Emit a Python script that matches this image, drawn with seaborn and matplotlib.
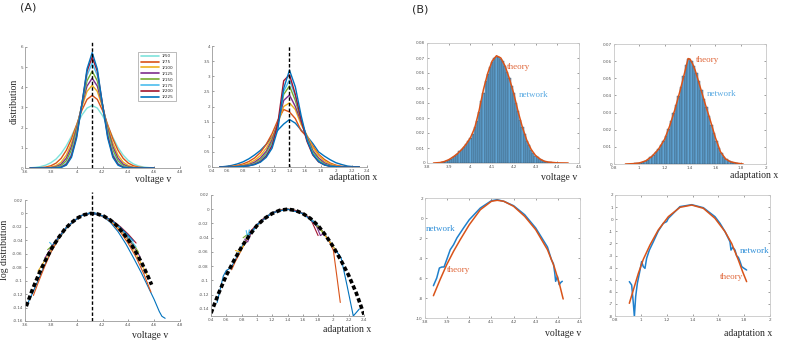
import matplotlib
matplotlib.use("Agg")
import matplotlib.pyplot as plt
from matplotlib.ticker import FuncFormatter
import numpy as np
import pandas as pd
import seaborn as sns

sns.set_theme(style="white")
plt.rcParams["font.family"] = ["DejaVu Sans"]

W, H = 789, 342
SERIF = "Liberation Serif"

# ---------------- data ----------------
labels = ["1/50", "1/75", "1/100", "1/125", "1/150", "1/175", "1/200", "1/225"]
colors_v = ["#7ee3dc", "#d95319", "#edb120", "#7e2f8e", "#77ac30", "#4dbeee", "#a2142f", "#0072bd"]
colors_x = ["#0072bd", "#d95319", "#edb120", "#7e2f8e", "#77ac30", "#4dbeee", "#a2142f", "#0072bd"]
v_mean = 4.12
x_mean = 1.39

# (A) voltage distributions
v_grid = [3.64, 3.68, 3.72, 3.76, 3.80, 3.84, 3.88, 3.92, 3.96, 4.00, 4.04, 4.08, 4.12,
          4.16, 4.20, 4.24, 4.28, 4.32, 4.36, 4.40, 4.44, 4.48, 4.52, 4.56, 4.60]
p_v50 = [0.01, 0.03, 0.07, 0.14, 0.26, 0.44, 0.72, 1.10, 1.58, 2.12, 2.62, 2.97, 3.10,
         2.97, 2.60, 2.08, 1.52, 1.02, 0.64, 0.37, 0.20, 0.10, 0.045, 0.02, 0.01]
p_v75 = [0.002, 0.006, 0.018, 0.045, 0.11, 0.24, 0.48, 0.88, 1.45, 2.15, 2.86, 3.40, 3.60,
         3.40, 2.86, 2.15, 1.45, 0.88, 0.48, 0.24, 0.11, 0.045, 0.018, 0.006, 0.002]
p_v100 = [0.0, 0.001, 0.005, 0.015, 0.045, 0.12, 0.29, 0.64, 1.24, 2.08, 3.02, 3.80, 4.10,
          3.80, 3.02, 2.08, 1.24, 0.64, 0.29, 0.12, 0.045, 0.015, 0.005, 0.001, 0.0]
p_v125 = [0.0, 0.0, 0.001, 0.006, 0.02, 0.065, 0.19, 0.49, 1.07, 1.98, 3.10, 4.06, 4.45,
          4.06, 3.10, 1.98, 1.07, 0.49, 0.19, 0.065, 0.02, 0.006, 0.001, 0.0, 0.0]
p_v150 = [0.0, 0.0, 0.0, 0.002, 0.008, 0.035, 0.12, 0.36, 0.90, 1.86, 3.14, 4.32, 4.80,
          4.32, 3.14, 1.86, 0.90, 0.36, 0.12, 0.035, 0.008, 0.002, 0.0, 0.0, 0.0]
p_v175 = [0.0, 0.0, 0.0, 0.0, 0.003, 0.014, 0.065, 0.24, 0.72, 1.70, 3.15, 4.59, 5.20,
          4.59, 3.15, 1.70, 0.72, 0.24, 0.065, 0.014, 0.003, 0.0, 0.0, 0.0, 0.0]
p_v200 = [0.0, 0.0, 0.0, 0.0, 0.001, 0.008, 0.04, 0.18, 0.61, 1.59, 3.16, 4.79, 5.50,
          4.79, 3.16, 1.59, 0.61, 0.18, 0.04, 0.008, 0.001, 0.0, 0.0, 0.0, 0.0]
p_v225 = [0.0, 0.0, 0.0, 0.0, 0.0, 0.004, 0.028, 0.14, 0.53, 1.49, 3.13, 4.91, 5.72,
          4.91, 3.13, 1.49, 0.53, 0.14, 0.028, 0.004, 0.0, 0.0, 0.0, 0.0, 0.0]

# (A) adaptation distributions
x_grid = [0.5, 0.575, 0.65, 0.725, 0.8, 0.875, 0.95, 1.025, 1.1, 1.175, 1.25, 1.325, 1.4,
          1.475, 1.55, 1.625, 1.7, 1.775, 1.85, 1.925, 2.0, 2.075, 2.15, 2.225, 2.3]
p_x50 = [0.0, 0.02, 0.05, 0.10, 0.17, 0.27, 0.40, 0.55, 0.75, 1.00, 1.22, 1.42, 1.57,
         1.45, 1.22, 1.02, 0.78, 0.50, 0.36, 0.24, 0.14, 0.08, 0.03, 0.01, 0.0]
p_x75 = [0.0, 0.01, 0.02, 0.05, 0.10, 0.18, 0.30, 0.48, 0.75, 1.10, 1.55, 1.90, 1.82,
         1.60, 1.20, 1.00, 0.70, 0.42, 0.25, 0.13, 0.06, 0.02, 0.01, 0.0, 0.0]
p_x100 = [0.0, 0.0, 0.01, 0.03, 0.06, 0.12, 0.22, 0.38, 0.62, 0.98, 1.45, 2.00, 2.12,
          1.90, 1.40, 1.05, 0.65, 0.38, 0.20, 0.10, 0.04, 0.01, 0.0, 0.0, 0.0]
p_x125 = [0.0, 0.0, 0.0, 0.02, 0.04, 0.08, 0.16, 0.30, 0.52, 0.90, 1.45, 2.20, 2.38,
          2.00, 1.50, 1.00, 0.55, 0.30, 0.14, 0.06, 0.02, 0.01, 0.0, 0.0, 0.0]
p_x150 = [0.0, 0.0, 0.0, 0.01, 0.03, 0.06, 0.12, 0.24, 0.45, 0.82, 1.45, 2.40, 2.68,
          2.20, 1.55, 0.95, 0.50, 0.24, 0.10, 0.04, 0.01, 0.0, 0.0, 0.0, 0.0]
p_x175 = [0.0, 0.0, 0.0, 0.01, 0.02, 0.05, 0.10, 0.20, 0.40, 0.75, 1.40, 2.50, 2.88,
          2.35, 1.60, 0.90, 0.45, 0.20, 0.08, 0.03, 0.01, 0.0, 0.0, 0.0, 0.0]
p_x200 = [0.0, 0.0, 0.0, 0.01, 0.02, 0.04, 0.09, 0.18, 0.36, 0.70, 1.45, 2.85, 3.05,
          2.40, 1.55, 0.85, 0.40, 0.17, 0.07, 0.02, 0.01, 0.0, 0.0, 0.0, 0.0]
p_x225 = [0.0, 0.0, 0.0, 0.01, 0.02, 0.04, 0.08, 0.16, 0.32, 0.62, 1.25, 2.60, 3.20,
          2.65, 1.70, 0.90, 0.42, 0.18, 0.07, 0.02, 0.01, 0.0, 0.0, 0.0, 0.0]

# (A) log distributions, voltage
logv_theory_x = [3.61, 3.66, 3.71, 3.76, 3.81, 3.86, 3.91, 3.96, 4.01, 4.06, 4.11,
                 4.16, 4.21, 4.26, 4.31, 4.36, 4.41, 4.46, 4.51, 4.56, 4.58]
logv_theory_y = [-0.138, -0.112, -0.089, -0.069, -0.051, -0.036, -0.023, -0.0136, -0.0064, -0.0019, 0.0,
                 -0.0008, -0.004, -0.0098, -0.018, -0.029, -0.042, -0.058, -0.076, -0.097, -0.106]
logv_x = [
    [3.62, 3.66, 3.70, 3.75, 3.80, 3.86, 3.92, 3.98, 4.04, 4.10, 4.14, 4.20, 4.26, 4.32, 4.38, 4.44, 4.50, 4.56, 4.60, 4.64, 4.66, 4.685],
    [3.665, 3.70, 3.75, 3.80, 3.86, 3.92, 3.98, 4.04, 4.10, 4.16, 4.22, 4.28, 4.34, 4.40, 4.46, 4.52, 4.575],
    [3.70, 3.75, 3.80, 3.86, 3.92, 3.98, 4.04, 4.10, 4.16, 4.22, 4.28, 4.34, 4.40, 4.46, 4.52, 4.55],
    [3.755, 3.80, 3.86, 3.92, 3.98, 4.04, 4.10, 4.16, 4.22, 4.28, 4.34, 4.40, 4.46, 4.49],
    [3.775, 3.82, 3.86, 3.92, 3.98, 4.04, 4.10, 4.16, 4.22, 4.28, 4.34, 4.40, 4.46, 4.48],
    [3.79, 3.81, 3.83, 3.86, 3.92, 3.98, 4.04, 4.10, 4.16, 4.22, 4.28, 4.34, 4.40, 4.46],
    [3.80, 3.86, 3.92, 3.98, 4.04, 4.10, 4.16, 4.22, 4.28, 4.34, 4.40, 4.46],
    [3.82, 3.86, 3.92, 3.98, 4.04, 4.10, 4.16, 4.22, 4.28, 4.34, 4.40, 4.44],
]
logv_y = [
    [-0.134, -0.118, -0.100, -0.078, -0.057, -0.038, -0.022, -0.011, -0.003, 0.001, 0.001, -0.004, -0.013, -0.027, -0.045, -0.066, -0.088, -0.112, -0.128, -0.146, -0.153, -0.156],
    [-0.122, -0.104, -0.080, -0.058, -0.038, -0.022, -0.011, -0.003, 0.0, -0.001, -0.006, -0.015, -0.028, -0.045, -0.065, -0.090, -0.117],
    [-0.086, -0.071, -0.054, -0.037, -0.022, -0.011, -0.003, 0.0, -0.001, -0.005, -0.013, -0.025, -0.041, -0.060, -0.082, -0.094],
    [-0.066, -0.052, -0.036, -0.021, -0.011, -0.003, 0.0, -0.001, -0.005, -0.012, -0.023, -0.038, -0.055, -0.064],
    [-0.054, -0.046, -0.036, -0.021, -0.011, -0.003, 0.0, -0.001, -0.005, -0.012, -0.022, -0.036, -0.052, -0.058],
    [-0.043, -0.047, -0.043, -0.036, -0.021, -0.011, -0.003, 0.0, -0.001, -0.005, -0.012, -0.022, -0.035, -0.050],
    [-0.051, -0.035, -0.021, -0.011, -0.003, 0.0, -0.001, -0.005, -0.011, -0.020, -0.031, -0.044],
    [-0.046, -0.036, -0.021, -0.011, -0.003, 0.0, -0.001, -0.005, -0.012, -0.021, -0.033, -0.041],
]

# (A) log distributions, adaptation
logx_theory_x = [0.4, 0.5, 0.6, 0.7, 0.8, 0.9, 1.0, 1.1, 1.2, 1.3, 1.4,
                 1.5, 1.6, 1.7, 1.8, 1.9, 2.0, 2.1, 2.2, 2.3, 2.4]
logx_theory_y = [-0.146, -0.118, -0.093, -0.072, -0.053, -0.037, -0.023, -0.013, -0.006, -0.0015, 0.0,
                 -0.0015, -0.006, -0.013, -0.023, -0.037, -0.053, -0.072, -0.093, -0.118, -0.148]
logx_x = [
    [0.48, 0.56, 0.60, 0.65, 0.70, 0.80, 0.90, 1.0, 1.1, 1.2, 1.3, 1.4, 1.5, 1.6, 1.7, 1.8, 1.9, 2.0, 2.1, 2.18, 2.26, 2.34],
    [0.67, 0.72, 0.77, 0.85, 0.95, 1.05, 1.15, 1.25, 1.35, 1.45, 1.55, 1.65, 1.75, 1.85, 1.95, 2.0, 2.04, 2.09],
    [0.72, 0.78, 0.85, 0.95, 1.1, 1.25, 1.4, 1.55, 1.7, 1.85, 1.95, 2.02],
    [0.84, 0.88, 0.92, 1.0, 1.1, 1.25, 1.4, 1.55, 1.7, 1.78, 1.83, 1.86],
    [0.82, 0.87, 0.92, 1.0, 1.1, 1.25, 1.4, 1.55, 1.7, 1.8, 1.87],
    [0.86, 0.88, 0.90, 0.93, 1.0, 1.1, 1.25, 1.4, 1.55, 1.7, 1.79],
    [0.91, 0.95, 1.0, 1.1, 1.25, 1.4, 1.55, 1.7, 1.8],
    [0.90, 1.0, 1.2, 1.4, 1.6, 1.78],
]
logx_y = [
    [-0.131, -0.094, -0.086, -0.083, -0.075, -0.053, -0.036, -0.022, -0.012, -0.005, -0.001, 0.0, -0.0015, -0.006, -0.013, -0.023, -0.037, -0.053, -0.068, -0.108, -0.150, -0.140],
    [-0.085, -0.073, -0.063, -0.046, -0.030, -0.018, -0.009, -0.003, 0.0, 0.0, -0.003, -0.009, -0.018, -0.030, -0.046, -0.058, -0.090, -0.131],
    [-0.058, -0.060, -0.046, -0.030, -0.012, -0.003, 0.0, -0.003, -0.013, -0.031, -0.045, -0.056],
    [-0.042, -0.046, -0.034, -0.023, -0.012, -0.003, 0.0, -0.003, -0.013, -0.024, -0.037, -0.035],
    [-0.040, -0.036, -0.032, -0.023, -0.012, -0.003, 0.0, -0.003, -0.013, -0.025, -0.033],
    [-0.030, -0.040, -0.029, -0.034, -0.023, -0.012, -0.003, 0.0, -0.003, -0.013, -0.022],
    [-0.032, -0.027, -0.022, -0.012, -0.003, 0.0, -0.003, -0.013, -0.037],
    [-0.036, -0.022, -0.005, 0.0, -0.006, -0.022],
]

# (B) voltage histogram vs theory
hv_centers = [3.87, 3.88, 3.89, 3.90, 3.91, 3.92, 3.93, 3.94, 3.95, 3.96, 3.97, 3.98, 3.99,
              4.00, 4.01, 4.02, 4.03, 4.04, 4.05, 4.06, 4.07, 4.08, 4.09, 4.10, 4.11, 4.12,
              4.13, 4.14, 4.15, 4.16, 4.17, 4.18, 4.19, 4.20, 4.21, 4.22, 4.23, 4.24, 4.25,
              4.26, 4.27, 4.28, 4.29, 4.30, 4.31, 4.32, 4.33, 4.34, 4.35, 4.36, 4.37, 4.38,
              4.39, 4.40]
hv_heights = [0.0005, 0.001, 0.0015, 0.0022, 0.003, 0.004, 0.005, 0.0062, 0.0078, 0.0092, 0.0108, 0.0125, 0.0148,
              0.017, 0.0195, 0.024, 0.0282, 0.034, 0.0415, 0.047, 0.0545, 0.0595, 0.064, 0.0675, 0.070, 0.0705,
              0.071, 0.0695, 0.068, 0.065, 0.061, 0.0565, 0.0515, 0.0465, 0.040, 0.0345, 0.029, 0.024, 0.0195,
              0.015, 0.0118, 0.009, 0.0068, 0.005, 0.0037, 0.0027, 0.0019, 0.0013, 0.0009, 0.0006, 0.0004, 0.0003,
              0.0002, 0.0001]
tv_x = [3.83, 3.86, 3.88, 3.90, 3.92, 3.94, 3.96, 3.98, 4.00, 4.02, 4.04, 4.06, 4.08, 4.10, 4.12,
        4.14, 4.16, 4.18, 4.20, 4.22, 4.24, 4.26, 4.28, 4.30, 4.32, 4.34, 4.36, 4.40, 4.45]
tv_y = [0.0, 0.0003, 0.001, 0.0022, 0.004, 0.0062, 0.009, 0.0125, 0.0168, 0.0235, 0.035, 0.049, 0.060, 0.068, 0.0715,
        0.070, 0.0645, 0.056, 0.046, 0.034, 0.0235, 0.015, 0.009, 0.005, 0.0027, 0.0012, 0.0006, 0.0001, 0.0]

# (B) adaptation histogram vs theory
hx_centers = [0.95, 0.97, 0.99, 1.01, 1.03, 1.05, 1.07, 1.09, 1.11, 1.13, 1.15, 1.17, 1.19, 1.21,
              1.23, 1.25, 1.27, 1.29, 1.31, 1.33, 1.35, 1.37, 1.39, 1.41, 1.43, 1.45, 1.47, 1.49,
              1.51, 1.53, 1.55, 1.57, 1.59, 1.61, 1.63, 1.65, 1.67, 1.69, 1.71, 1.73, 1.75, 1.77, 1.79]
hx_heights = [0.0002, 0.0003, 0.0005, 0.0008, 0.0012, 0.0018, 0.0026, 0.0038, 0.0052, 0.0068, 0.0088, 0.011, 0.0135, 0.0165,
              0.0205, 0.025, 0.0298, 0.0345, 0.0398, 0.045, 0.0515, 0.0575, 0.0612, 0.060, 0.057, 0.053, 0.0485, 0.043,
              0.038, 0.033, 0.028, 0.0228, 0.018, 0.0135, 0.0095, 0.0065, 0.0042, 0.0028, 0.0018, 0.0011, 0.0007, 0.0004, 0.0002]
tx_x = [0.89, 0.95, 1.0, 1.05, 1.10, 1.15, 1.20, 1.24, 1.28, 1.32, 1.35, 1.37, 1.385, 1.40, 1.42, 1.44,
        1.46, 1.48, 1.52, 1.56, 1.60, 1.64, 1.68, 1.72, 1.77, 1.82]
tx_y = [0.0, 0.0002, 0.0006, 0.0018, 0.0045, 0.0085, 0.0145, 0.0223, 0.0316, 0.0423, 0.051, 0.057, 0.0615, 0.0612, 0.0585, 0.0548,
        0.050, 0.045, 0.035, 0.0255, 0.0155, 0.0072, 0.003, 0.0013, 0.0005, 0.0]

# (B) log voltage
lv_theory_x = [3.838, 3.868, 3.898, 3.929, 3.959, 4.0, 4.05, 4.1, 4.126, 4.156, 4.2, 4.25, 4.3, 4.353, 4.383, 4.406, 4.424]
lv_theory_y = [-7.77, -6.17, -4.67, -3.33, -2.17, -0.67, 0.83, 1.67, 1.77, 1.67, 1.17, 0.17, -1.17, -3.17, -4.83, -6.5, -8.1]
lv_net_x = [3.838, 3.853, 3.865, 3.876, 3.886, 3.898, 3.914, 3.929, 3.944, 3.974, 4.0, 4.05, 4.1, 4.126,
            4.156, 4.2, 4.25, 4.3, 4.353, 4.371, 4.38, 4.386, 4.39, 4.398, 4.406, 4.414, 4.42]
lv_net_y = [-6.77, -6.0, -5.0, -4.9, -4.9, -4.17, -3.17, -2.67, -2.0, -1.0, -0.17, 1.0, 1.73, 1.83,
            1.67, 1.23, 0.33, -1.0, -2.9, -4.17, -4.57, -5.5, -6.33, -5.83, -6.67, -6.43, -6.33]

# (B) log adaptation
lx_theory_x = [0.911, 0.942, 0.981, 1.019, 1.071, 1.135, 1.213, 1.303, 1.394, 1.484, 1.574, 1.652, 1.703, 1.755, 1.788, 1.819]
lx_theory_y = [-6.95, -5.85, -4.47, -3.32, -2.13, -0.89, 0.21, 0.98, 1.17, 0.9, 0.07, -1.03, -2.0, -3.37, -4.34, -5.16]
lx_net_x = [0.911, 0.929, 0.942, 0.95, 0.96, 0.973, 0.994, 1.006, 1.019, 1.032, 1.045, 1.066, 1.097, 1.135, 1.174, 1.2, 1.213,
            1.303, 1.394, 1.484, 1.574, 1.613, 1.652, 1.69, 1.698, 1.711, 1.729, 1.742, 1.755, 1.768, 1.781, 1.799, 1.819]
lx_net_y = [-5.16, -5.44, -6.95, -8.05, -6.4, -5.3, -4.2, -3.5, -3.92, -4.06, -3.23, -2.55, -1.86, -0.98, -0.34, -0.2, 0.07,
            1.04, 1.2, 0.95, 0.21, -0.34, -1.03, -1.86, -2.55, -2.33, -2.55, -3.04, -3.15, -3.5, -3.92, -4.06, -4.2]

THEORY = "#d95319"
NETWORK = "#1f80cc"
BAR = "#5fa3d3"

# ---------------- figure ----------------
fig = plt.figure(figsize=(W / 100, H / 100), dpi=100)
fmt = FuncFormatter(lambda v, _: f"{round(v, 6):g}")


def add_axes(left, top, right, bottom):
    return fig.add_axes([left / W, 1 - bottom / H, (right - left) / W, (bottom - top) / H])


def style(ax, xlim, ylim, xticks, yticks, box):
    ax.set_xlim(*xlim)
    ax.set_ylim(*ylim)
    ax.set_xticks(xticks)
    ax.set_yticks(yticks)
    ax.xaxis.set_major_formatter(fmt)
    ax.yaxis.set_major_formatter(fmt)
    ax.set_xlabel("")
    ax.set_ylabel("")
    ax.tick_params(direction="in", length=1.5, width=0.4, labelsize=3, colors="#555555",
                   pad=1.5, top=box, right=box, bottom=True, left=True)
    for side in ["left", "bottom", "top", "right"]:
        sp = ax.spines[side]
        if side in ("top", "right") and not box:
            sp.set_visible(False)
        else:
            sp.set_visible(True)
            sp.set_color("#c8c8c8" if box else "#9a9a9a")
            sp.set_linewidth(0.6)
    ax.set_facecolor("white")


def ftext(px, py, s, **kw):
    fig.text(px / W, 1 - py / H, s, **kw)


# A1: voltage distribution
ax = add_axes(25, 47, 180, 168)
df = pd.DataFrame({
    "v": v_grid * 8,
    "p": p_v50 + p_v75 + p_v100 + p_v125 + p_v150 + p_v175 + p_v200 + p_v225,
    "N": [lab for lab in labels for _ in v_grid],
})
sns.lineplot(data=df, x="v", y="p", hue="N", hue_order=labels, palette=dict(zip(labels, colors_v)),
             estimator=None, sort=False, linewidth=1.0, ax=ax)
ax.axvline(v_mean, ymin=0, ymax=1.05, color="black", lw=1.0, dashes=(2.5, 1.5), clip_on=False)
style(ax, (3.6, 4.8), (0, 6), [3.6, 3.8, 4.0, 4.2, 4.4, 4.6, 4.8], range(0, 7), box=False)
handles, _ = ax.get_legend_handles_labels()
leg = ax.legend(handles, labels, loc="upper right", bbox_to_anchor=(0.985, 0.975), fontsize=3,
                frameon=True, fancybox=False, edgecolor="#888888", handlelength=4.5,
                labelspacing=0.45, borderpad=0.5, handletextpad=0.6)
leg.get_frame().set_linewidth(0.5)
for line in leg.get_lines():
    line.set_linewidth(1.2)

# A2: adaptation distribution
ax = add_axes(212, 46, 367, 167)
df = pd.DataFrame({
    "x": x_grid * 8,
    "p": p_x50 + p_x75 + p_x100 + p_x125 + p_x150 + p_x175 + p_x200 + p_x225,
    "N": [lab for lab in labels for _ in x_grid],
})
sns.lineplot(data=df, x="x", y="p", hue="N", hue_order=labels, palette=dict(zip(labels, colors_x)),
             estimator=None, sort=False, linewidth=1.0, ax=ax, legend=False)
ax.axvline(x_mean, color="black", lw=1.0, dashes=(2.5, 1.5))
style(ax, (0.4, 2.4), (0, 4), [0.4, 0.6, 0.8, 1.0, 1.2, 1.4, 1.6, 1.8, 2.0, 2.2, 2.4],
      [0, 0.5, 1, 1.5, 2, 2.5, 3, 3.5, 4], box=False)

# A3: log voltage
ax = add_axes(25, 200, 180, 321)
for xs, ys, c in zip(logv_x, logv_y, colors_x):
    sns.lineplot(x=xs, y=ys, color=c, linewidth=0.8, estimator=None, sort=False, ax=ax)
sns.lineplot(x=logv_theory_x, y=logv_theory_y, color="black", linewidth=2.6, estimator=None,
             sort=False, ax=ax, dashes=False).lines[-1].set_dashes((1.2, 0.7))
ax.axvline(v_mean, ymin=0, ymax=1.07, color="black", lw=1.0, dashes=(2.5, 1.5), clip_on=False)
style(ax, (3.6, 4.8), (-0.16, 0.02), [3.6, 3.8, 4.0, 4.2, 4.4, 4.6, 4.8],
      [-0.16, -0.14, -0.12, -0.1, -0.08, -0.06, -0.04, -0.02, 0, 0.02], box=False)

# A4: log adaptation
ax = add_axes(211, 195, 364, 316)
for xs, ys, c in zip(logx_x, logx_y, colors_x):
    sns.lineplot(x=xs, y=ys, color=c, linewidth=0.8, estimator=None, sort=False, ax=ax)
sns.lineplot(x=logx_theory_x, y=logx_theory_y, color="black", linewidth=2.6, estimator=None,
             sort=False, ax=ax).lines[-1].set_dashes((1.2, 0.7))
style(ax, (0.4, 2.4), (-0.15, 0.02), [0.4, 0.6, 0.8, 1.0, 1.2, 1.4, 1.6, 1.8, 2.0, 2.2, 2.4],
      [-0.14, -0.12, -0.1, -0.08, -0.06, -0.04, -0.02, 0, 0.02], box=False)

# B1: voltage histogram
ax = add_axes(427, 43, 579, 163)
sns.histplot(x=hv_centers, weights=hv_heights, binwidth=0.01, binrange=(3.865, 4.405), color=BAR,
             alpha=1, edgecolor="#34495e", linewidth=0.3, ax=ax)
sns.lineplot(x=tv_x, y=tv_y, color=THEORY, linewidth=1.1, estimator=None, sort=False, ax=ax)
ax.text(4.168, 0.064, "theory", color="#e0673a", family=SERIF, fontsize=6.5, va="center")
ax.text(4.224, 0.0453, "network", color="#5aaae2", family=SERIF, fontsize=6.5, va="center")
style(ax, (3.8, 4.5), (0, 0.08), [3.8, 3.9, 4.0, 4.1, 4.2, 4.3, 4.4, 4.5],
      [0, 0.01, 0.02, 0.03, 0.04, 0.05, 0.06, 0.07, 0.08], box=True)

# B2: adaptation histogram
ax = add_axes(614, 44, 766, 164)
sns.histplot(x=hx_centers, weights=hx_heights, binwidth=0.02, binrange=(0.94, 1.80), color=BAR,
             alpha=1, edgecolor="#34495e", linewidth=0.3, ax=ax)
sns.lineplot(x=tx_x, y=tx_y, color=THEORY, linewidth=1.1, estimator=None, sort=False, ax=ax)
ax.text(1.445, 0.0605, "theory", color="#e0673a", family=SERIF, fontsize=6.5, va="center")
ax.text(1.53, 0.041, "network", color="#5aaae2", family=SERIF, fontsize=6.5, va="center")
style(ax, (0.8, 2.0), (0, 0.07), [0.8, 1.0, 1.2, 1.4, 1.6, 1.8, 2.0],
      [0, 0.01, 0.02, 0.03, 0.04, 0.05, 0.06, 0.07], box=True)

# B3: log voltage
ax = add_axes(425, 198, 580, 318)
sns.lineplot(x=lv_net_x, y=lv_net_y, color=NETWORK, linewidth=1.1, estimator=None, sort=False, ax=ax)
sns.lineplot(x=lv_theory_x, y=lv_theory_y, color=THEORY, linewidth=1.1, estimator=None, sort=False, ax=ax)
ax.text(3.805, -1.1, "network", color="#2f8fd8", family=SERIF, fontsize=6.5, va="center")
ax.text(3.898, -5.17, "theory", color="#e0673a", family=SERIF, fontsize=6.5, va="center")
style(ax, (3.8, 4.5), (-10, 2), [3.8, 3.9, 4.0, 4.1, 4.2, 4.3, 4.4, 4.5],
      [-10, -8, -6, -4, -2, 0, 2], box=True)

# B4: log adaptation
ax = add_axes(615, 195, 770, 316)
sns.lineplot(x=lx_net_x, y=lx_net_y, color=NETWORK, linewidth=1.1, estimator=None, sort=False, ax=ax)
sns.lineplot(x=lx_theory_x, y=lx_theory_y, color=THEORY, linewidth=1.1, estimator=None, sort=False, ax=ax)
ax.text(1.762, -2.66, "network", color="#2f8fd8", family=SERIF, fontsize=6.5, va="center")
ax.text(1.613, -4.75, "theory", color="#e0673a", family=SERIF, fontsize=6.5, va="center")
style(ax, (0.8, 2.0), (-8, 2), [0.8, 1.0, 1.2, 1.4, 1.6, 1.8, 2.0],
      [-8, -7, -6, -5, -4, -3, -2, -1, 0, 1, 2], box=True)

# labels
ftext(20, 8, "(A)", fontsize=8, va="center", ha="left")
ftext(412, 10, "(B)", fontsize=8, va="center", ha="left")
ftext(14, 101, "distribution", family=SERIF, fontsize=7, rotation=90, ha="center", va="center")
ftext(5, 250, "log distribution", family=SERIF, fontsize=7, rotation=90, ha="center", va="center")
for px, py, s in [(153, 180, "voltage v"), (353, 177, "adaptation x"),
                  (150, 335, "voltage v"), (347, 330, "adaptation x"),
                  (559, 177, "voltage v"), (754, 175, "adaptation x"),
                  (563, 334, "voltage v"), (748, 333, "adaptation x")]:
    ftext(px, py, s, family=SERIF, fontsize=7, ha="center", va="center")

fig.savefig("out.png", dpi=100)
